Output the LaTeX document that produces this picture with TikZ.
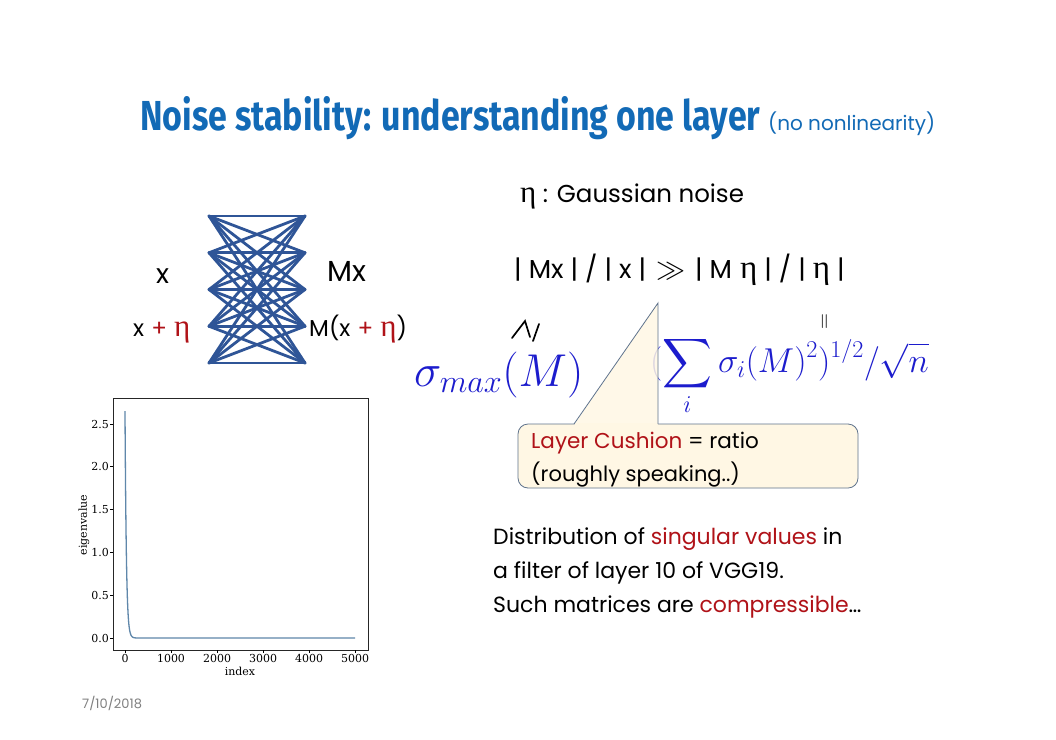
\RequirePackage{fix-cm}
\documentclass[tikz,border=0pt]{standalone}
\usepackage{amssymb}
\usepackage{graphicx}
\usepackage{fontspec}
\setmainfont{Poppins}
\newfontfamily\grk{Liberation Serif}
\newfontfamily\tfont{Fira Sans}
\newfontfamily\plotfont{DejaVu Serif}
\definecolor{titleblue}{RGB}{18,106,182}
\definecolor{netblue}{RGB}{47,85,151}
\definecolor{mblue}{RGB}{28,28,205}
\definecolor{dred}{RGB}{176,18,24}
\definecolor{cream}{RGB}{255,247,228}
\definecolor{cborder}{RGB}{95,115,140}
\definecolor{curveblue}{RGB}{95,135,170}
\newcommand{\gs}{\hspace{7pt}}
\tikzset{
  txt/.style={anchor=base west, inner sep=0pt, font=\fontsize{22}{26}\selectfont},
  net/.style={draw=netblue, line width=2.8pt, line cap=round},
  tick/.style={line width=0.8pt},
  ticklab/.style={inner sep=0pt, font=\plotfont\fontsize{11}{13}\selectfont},
  glyph/.style={line width=1.7pt, line cap=round},
}
\begin{document}
\begin{tikzpicture}[x=1pt,y=-1pt]
\path[use as bounding box, fill=white] (0,0) rectangle (1056,739);

% title
\node[anchor=base west, inner sep=0pt, text=titleblue] (title) at (140,130)
  {\resizebox{620pt}{34pt}{\tfont\bfseries Noise stability: understanding one layer}};
\node[anchor=base west, inner sep=0pt, text=titleblue, font=\fontsize{20}{24}\selectfont] (sub) at (768,130) {(no nonlinearity)};

% network
\foreach \i in {1,...,5} {
  \coordinate (L\i) at (209,{216+36.75*(\i-1)});
  \coordinate (R\i) at (305,{216+36.75*(\i-1)});
}
\foreach \i in {1,...,5} {
  \foreach \j in {1,...,5} {
    \draw[net] (L\i) -- (R\j);
  }
}
\node[txt, font=\fontsize{27}{30}\selectfont] (x) at (156,283) {x};
\node[txt, font=\fontsize{29}{32}\selectfont] (mx) at (327,281) {Mx};
\node[txt, font=\fontsize{23}{26}\selectfont] (xeta) at (133,336) {x\hspace{1pt} \textcolor{dred}{+\hspace{1pt} {\grk\fontsize{31}{32}\selectfont η}}};
\node[txt, font=\fontsize{23}{26}\selectfont] (meta) at (309,336) {M(x\hspace{1pt} \textcolor{dred}{+\hspace{1pt} {\grk\fontsize{31}{32}\selectfont η}})};

% right side
\node[txt, font=\fontsize{24.5}{27}\selectfont] (gauss) at (520,202) {{\grk\fontsize{31}{33}\selectfont η} : Gaussian noise};
\node[txt, font=\fontsize{26}{29}\selectfont] (ineq) at (514,278)
  {|\gs Mx\gs|\gs/\gs|\gs x\gs|\hspace{10pt}{\fontsize{29}{31}\selectfont$\gg$}\hspace{10pt}|\gs M\hspace{8pt}{\grk\fontsize{33}{35}\selectfont η}\gs|\gs/\gs|\gs{\grk\fontsize{33}{35}\selectfont η}\gs|};
% rotated >= sign
\coordinate (g1) at (512,338);
\coordinate (g2) at (525,321);
\coordinate (g3) at (530,337);
\coordinate (g4) at (533,341);
\coordinate (g5) at (539,324);
\draw[glyph] (g1) -- (g2) -- (g3);
\draw[glyph] (g4) -- (g5);
\node[inner sep=0pt] (eq) at (826,322) {\rotatebox{90}{\fontsize{22}{24}\selectfont$=$}};
\node[anchor=base west, inner sep=0pt, text=mblue] (smax) at (414,386)
  {\fontsize{46}{50}\selectfont$\sigma_{max}(M)$};
\node[anchor=base west, inner sep=0pt, text=mblue] (ssum) at (650,372)
  {\fontsize{34.5}{38}\selectfont$(\displaystyle\sum_i \sigma_i(M)^2)^{1/2}/\sqrt{n}$};

% callout
\node[draw=cborder, fill=cream, rounded corners=10pt, minimum width=340pt, minimum height=64pt, inner sep=0pt, line width=0.8pt] (cbox) at (688,456) {};
\fill[cream, fill opacity=0.85] (574,425.2) -- (658,303) -- (658,425.2) -- cycle;
\fill[cream] (575,423) rectangle (657.5,425.5);
\draw[cborder, line width=0.8pt] (574,424) -- (658,303) -- (658,424);
\node[txt, font=\fontsize{21.5}{24}\selectfont] (cush1) at (531,448) {\textcolor{dred}{Layer Cushion} = ratio};
\node[txt, font=\fontsize{21}{24}\selectfont] (cush2) at (531,481) {(roughly speaking..)};

% bottom text
\node[txt] (d1) at (493,544) {Distribution of \textcolor{dred}{singular values} in};
\node[txt] (d2) at (493,578) {a filter of layer 10 of VGG19.};
\node[txt] (d3) at (493,612) {Such matrices are \textcolor{dred}{compressible}…};

% plot
\draw[line width=1pt, black!85] (113,398) rectangle (368,650);
\foreach \v/\l in {0/0.0,0.5/0.5,1/1.0,1.5/1.5,2/2.0,2.5/2.5} {
  \draw[tick] (113,{638-85.6*\v}) -- (110,{638-85.6*\v});
  \node[ticklab, anchor=east] (yl\l) at (109,{638-85.6*\v}) {\l};
}
\foreach \v in {0,1000,2000,3000,4000,5000} {
  \draw[tick] ({125+0.046*\v},650) -- ({125+0.046*\v},653);
  \node[ticklab, anchor=north] (xl\v) at ({125+0.046*\v},654) {\v};
}
\node[ticklab, anchor=north] (xlab) at (240,667) {index};
\node[ticklab, rotate=90] (ylab) at (84,525) {eigenvalue};
\draw[curveblue, line width=1.3pt] plot[domain=0:400, samples=200, variable=\t] ({125+0.046*\t},{638-226.8*exp(-\t/30)}) -- (355,638);

% date
\node[anchor=base west, inner sep=0pt, text=gray, font=\fontsize{13}{15}\selectfont] (date) at (82,708) {7/10/2018};
\end{tikzpicture}
\end{document}
